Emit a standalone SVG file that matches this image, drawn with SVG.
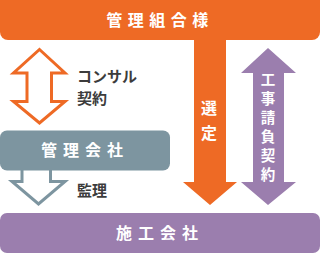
<svg xmlns="http://www.w3.org/2000/svg" width="320" height="253" viewBox="0 0 320 253">
<style>
.w{fill:#fff;font-family:"Noto Sans CJK JP","Noto Sans",sans-serif;font-weight:bold;text-anchor:middle}
.d{fill:#3c3c3c;font-family:"Noto Sans CJK JP","Noto Sans",sans-serif;font-weight:bold;font-size:15px}
</style>
<rect width="320" height="253" fill="#fff"/>
<g id="connectors">
<path id="sentei" d="M194,38 H226 V182 H237 L210,205 L183,182 H194 Z" fill="#EE6A25"/>
<path id="ukeoi" d="M268,48 L296,73 H284 V182 H296 L268,205 L241,182 H253 V73 H241 Z" fill="#9B7EAE"/>
<path id="consul" d="M39.5,49.5 L65,73 H51.5 V101.5 H65 L39.5,123 L13.5,101.5 H27 V73 H13.5 Z" fill="#fff" stroke="#EE6A25" stroke-width="3" stroke-linejoin="miter"/>
<path id="kanri" d="M22,170 V181.5 H12 L38.5,204 L65,181.5 H50.5 V170" fill="#fff" stroke="#7D95A0" stroke-width="3"/>
<text class="w" font-size="16" x="209" y="114">選</text>
<text class="w" font-size="16" x="209" y="139">定</text>
<text class="w" font-size="14.5" x="268" y="84.5">工</text>
<text class="w" font-size="14.5" x="268" y="103.5">事</text>
<text class="w" font-size="14.5" x="268" y="122.5">請</text>
<text class="w" font-size="14.5" x="268" y="141.5">負</text>
<text class="w" font-size="14.5" x="268" y="160.5">契</text>
<text class="w" font-size="14.5" x="268" y="179.5">約</text>
<text class="d" x="77" y="82">コンサル</text>
<text class="d" x="77" y="104">契約</text>
<text class="d" x="77" y="196">監理</text>
</g>
<g id="n-top">
<rect x="0" y="0" width="320" height="40" rx="8" fill="#EE6A25"/>
<rect x="0" y="0" width="320" height="10" fill="#EE6A25"/>
<text class="w" x="160" y="26" font-size="16" letter-spacing="5.5">管理組合様</text>
</g>
<g id="n-kanri">
<rect x="0" y="130.5" width="170" height="40" rx="7" fill="#7D95A0"/>
<text class="w" x="85" y="156" font-size="16" letter-spacing="6">管理会社</text>
</g>
<g id="n-seko">
<rect x="0" y="213" width="320" height="40" rx="7" fill="#9B7EAE"/>
<text class="w" x="160" y="239" font-size="16" letter-spacing="6">施工会社</text>
</g>
</svg>
